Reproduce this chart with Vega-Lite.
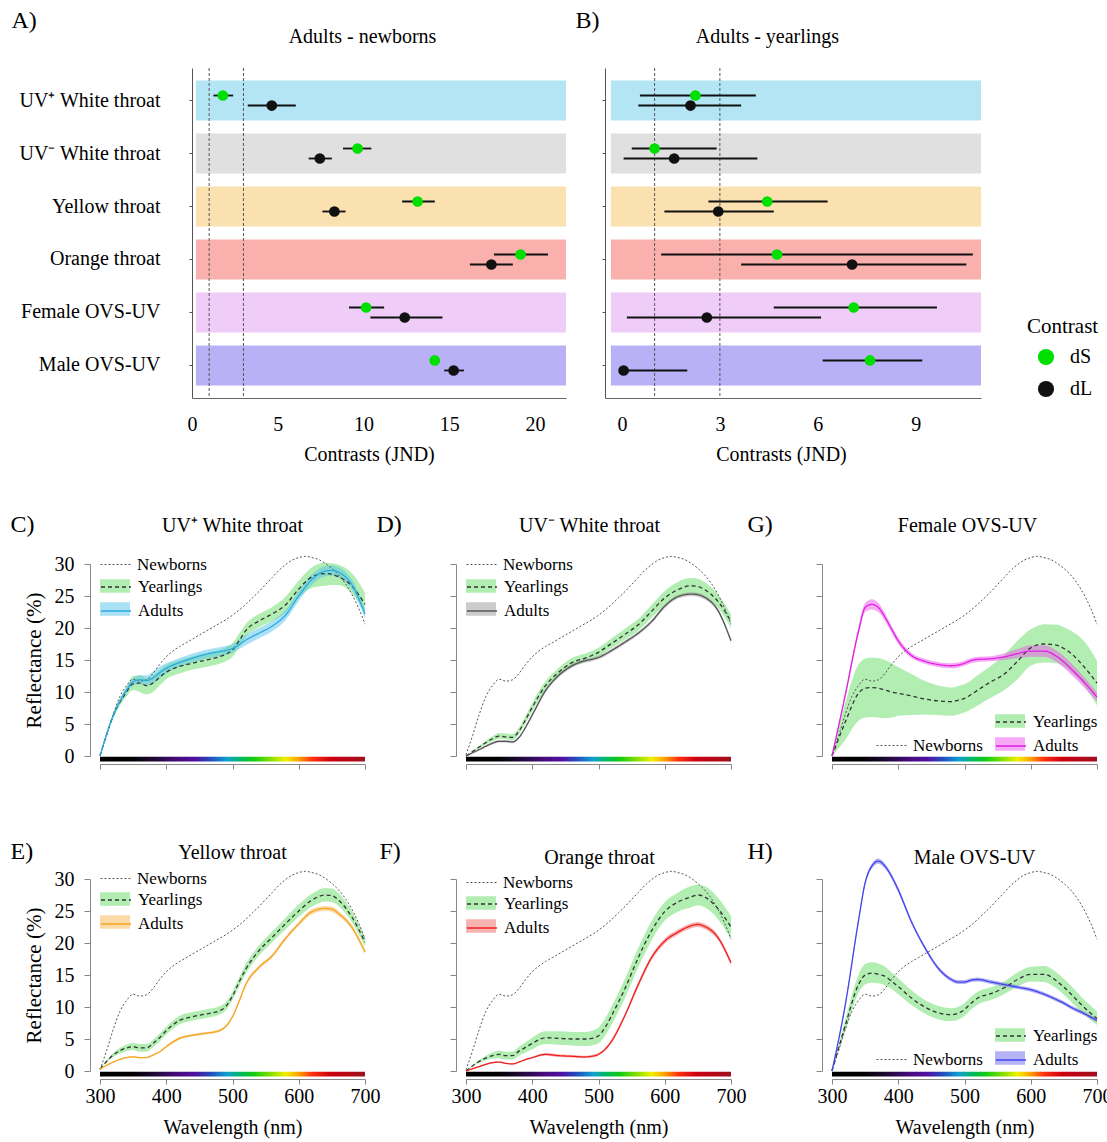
{
"$schema":"https://vega.github.io/schema/vega-lite/v6.json",
"padding":{"left":10,"top":8,"right":5,"bottom":5},
"config":{"font":"Liberation Serif","view":{"stroke":null},
 "axis":{"grid":false,"titleFontWeight":"normal","labelColor":"#000000","titleColor":"#000000","labelFont":"Liberation Serif","titleFont":"Liberation Serif"},
 "legend":{"labelFont":"Liberation Serif","titleFont":"Liberation Serif","labelColor":"#000000","titleColor":"#000000"}},
"datasets":{
"thr":[{"t":1},{"t":3}],
"con":[
{"comp":"Adults - newborns","cat":"UV⁺ White throat","type":"dS","v":1.8,"lo":1.25,"hi":2.4},
{"comp":"Adults - newborns","cat":"UV⁺ White throat","type":"dL","v":4.65,"lo":3.25,"hi":6.05},
{"comp":"Adults - newborns","cat":"UV⁻ White throat","type":"dS","v":9.65,"lo":8.8,"hi":10.45},
{"comp":"Adults - newborns","cat":"UV⁻ White throat","type":"dL","v":7.45,"lo":6.8,"hi":8.15},
{"comp":"Adults - newborns","cat":"Yellow throat","type":"dS","v":13.15,"lo":12.25,"hi":14.15},
{"comp":"Adults - newborns","cat":"Yellow throat","type":"dL","v":8.3,"lo":7.6,"hi":8.95},
{"comp":"Adults - newborns","cat":"Orange throat","type":"dS","v":19.15,"lo":17.6,"hi":20.75},
{"comp":"Adults - newborns","cat":"Orange throat","type":"dL","v":17.45,"lo":16.2,"hi":18.7},
{"comp":"Adults - newborns","cat":"Female OVS-UV","type":"dS","v":10.15,"lo":9.15,"hi":11.2},
{"comp":"Adults - newborns","cat":"Female OVS-UV","type":"dL","v":12.4,"lo":10.4,"hi":14.6},
{"comp":"Adults - newborns","cat":"Male OVS-UV","type":"dS","v":14.15,"lo":14.0,"hi":14.3},
{"comp":"Adults - newborns","cat":"Male OVS-UV","type":"dL","v":15.25,"lo":14.7,"hi":15.85},
{"comp":"Adults - yearlings","cat":"UV⁺ White throat","type":"dS","v":2.25,"lo":0.55,"hi":4.1},
{"comp":"Adults - yearlings","cat":"UV⁺ White throat","type":"dL","v":2.1,"lo":0.5,"hi":3.65},
{"comp":"Adults - yearlings","cat":"UV⁻ White throat","type":"dS","v":1.0,"lo":0.3,"hi":2.9},
{"comp":"Adults - yearlings","cat":"UV⁻ White throat","type":"dL","v":1.6,"lo":0.05,"hi":4.15},
{"comp":"Adults - yearlings","cat":"Yellow throat","type":"dS","v":4.45,"lo":2.65,"hi":6.3},
{"comp":"Adults - yearlings","cat":"Yellow throat","type":"dL","v":2.95,"lo":1.3,"hi":4.65},
{"comp":"Adults - yearlings","cat":"Orange throat","type":"dS","v":4.75,"lo":1.2,"hi":10.75},
{"comp":"Adults - yearlings","cat":"Orange throat","type":"dL","v":7.05,"lo":3.65,"hi":10.55},
{"comp":"Adults - yearlings","cat":"Female OVS-UV","type":"dS","v":7.1,"lo":4.65,"hi":9.65},
{"comp":"Adults - yearlings","cat":"Female OVS-UV","type":"dL","v":2.6,"lo":0.15,"hi":6.1},
{"comp":"Adults - yearlings","cat":"Male OVS-UV","type":"dS","v":7.6,"lo":6.15,"hi":9.2},
{"comp":"Adults - yearlings","cat":"Male OVS-UV","type":"dL","v":0.05,"lo":0.05,"hi":2.0}
],
"newborn":[
{"w":300,"r":0.2},{"w":310,"r":3.2},{"w":320,"r":6.5},{"w":330,"r":9.3},{"w":340,"r":11.0},{"w":350,"r":12.0},{"w":360,"r":11.7},{"w":370,"r":11.9},{"w":380,"r":12.9},{"w":390,"r":14.3},{"w":400,"r":15.5},{"w":410,"r":16.4},{"w":420,"r":17.1},{"w":430,"r":17.7},{"w":440,"r":18.3},{"w":450,"r":18.9},{"w":460,"r":19.5},{"w":470,"r":20.1},{"w":480,"r":20.7},{"w":490,"r":21.3},{"w":500,"r":22.0},{"w":510,"r":22.8},{"w":520,"r":23.7},{"w":530,"r":24.7},{"w":540,"r":25.7},{"w":550,"r":26.8},{"w":560,"r":27.9},{"w":570,"r":29.0},{"w":580,"r":29.9},{"w":590,"r":30.6},{"w":600,"r":31.0},{"w":610,"r":31.2},{"w":620,"r":31.0},{"w":630,"r":30.7},{"w":640,"r":30.1},{"w":650,"r":29.3},{"w":660,"r":28.3},{"w":670,"r":27.0},{"w":680,"r":25.3},{"w":690,"r":23.2},{"w":700,"r":20.6}
],
"spec":[
{"p":"C","g":"Yearlings","w":300,"m":0,"lo":0,"hi":0},{"p":"C","g":"Yearlings","w":320,"m":6.3,"lo":5.9,"hi":6.7},{"p":"C","g":"Yearlings","w":340,"m":10.0,"lo":9.3,"hi":10.8},{"p":"C","g":"Yearlings","w":350,"m":11.3,"lo":10.3,"hi":12.5},{"p":"C","g":"Yearlings","w":360,"m":11.4,"lo":10.0,"hi":12.6},{"p":"C","g":"Yearlings","w":370,"m":11.0,"lo":9.6,"hi":12.2},{"p":"C","g":"Yearlings","w":380,"m":11.4,"lo":10.0,"hi":12.6},{"p":"C","g":"Yearlings","w":390,"m":12.3,"lo":11.0,"hi":13.4},{"p":"C","g":"Yearlings","w":400,"m":13.1,"lo":12.0,"hi":14.2},{"p":"C","g":"Yearlings","w":420,"m":14.0,"lo":12.9,"hi":15.0},{"p":"C","g":"Yearlings","w":440,"m":14.5,"lo":13.5,"hi":15.6},{"p":"C","g":"Yearlings","w":460,"m":15.0,"lo":13.9,"hi":16.1},{"p":"C","g":"Yearlings","w":480,"m":15.5,"lo":14.4,"hi":16.6},{"p":"C","g":"Yearlings","w":490,"m":15.9,"lo":14.8,"hi":17.0},{"p":"C","g":"Yearlings","w":500,"m":16.6,"lo":15.5,"hi":17.6},{"p":"C","g":"Yearlings","w":510,"m":18.0,"lo":17.0,"hi":19.1},{"p":"C","g":"Yearlings","w":520,"m":19.6,"lo":18.6,"hi":20.6},{"p":"C","g":"Yearlings","w":540,"m":21.1,"lo":20.1,"hi":22.2},{"p":"C","g":"Yearlings","w":560,"m":22.2,"lo":21.1,"hi":23.3},{"p":"C","g":"Yearlings","w":580,"m":23.6,"lo":22.4,"hi":24.9},{"p":"C","g":"Yearlings","w":600,"m":26.1,"lo":24.8,"hi":27.4},{"p":"C","g":"Yearlings","w":620,"m":28.0,"lo":26.3,"hi":29.5},{"p":"C","g":"Yearlings","w":640,"m":28.5,"lo":26.6,"hi":30.2},{"p":"C","g":"Yearlings","w":650,"m":28.4,"lo":26.7,"hi":30.1},{"p":"C","g":"Yearlings","w":660,"m":28.0,"lo":26.7,"hi":29.9},{"p":"C","g":"Yearlings","w":680,"m":26.6,"lo":25.4,"hi":28.6},{"p":"C","g":"Yearlings","w":700,"m":23.7,"lo":22.4,"hi":25.5},
{"p":"C","g":"Adults","w":300,"m":0,"lo":0,"hi":0},{"p":"C","g":"Adults","w":320,"m":6.3,"lo":6.0,"hi":6.6},{"p":"C","g":"Adults","w":340,"m":10.3,"lo":9.8,"hi":10.8},{"p":"C","g":"Adults","w":350,"m":11.6,"lo":11.0,"hi":12.2},{"p":"C","g":"Adults","w":360,"m":11.9,"lo":11.2,"hi":12.6},{"p":"C","g":"Adults","w":370,"m":11.8,"lo":11.0,"hi":12.6},{"p":"C","g":"Adults","w":380,"m":12.2,"lo":11.3,"hi":13.2},{"p":"C","g":"Adults","w":390,"m":13.0,"lo":12.1,"hi":14.0},{"p":"C","g":"Adults","w":400,"m":13.7,"lo":12.9,"hi":14.5},{"p":"C","g":"Adults","w":420,"m":14.6,"lo":13.9,"hi":15.3},{"p":"C","g":"Adults","w":440,"m":15.3,"lo":14.6,"hi":16.0},{"p":"C","g":"Adults","w":460,"m":15.9,"lo":15.2,"hi":16.6},{"p":"C","g":"Adults","w":480,"m":16.3,"lo":15.6,"hi":17.0},{"p":"C","g":"Adults","w":490,"m":16.5,"lo":15.8,"hi":17.2},{"p":"C","g":"Adults","w":500,"m":16.8,"lo":16.1,"hi":17.5},{"p":"C","g":"Adults","w":510,"m":17.4,"lo":16.7,"hi":18.2},{"p":"C","g":"Adults","w":520,"m":18.1,"lo":17.3,"hi":18.9},{"p":"C","g":"Adults","w":540,"m":19.2,"lo":18.4,"hi":20.0},{"p":"C","g":"Adults","w":560,"m":20.3,"lo":19.5,"hi":21.1},{"p":"C","g":"Adults","w":580,"m":22.0,"lo":21.2,"hi":22.8},{"p":"C","g":"Adults","w":600,"m":25.0,"lo":24.2,"hi":25.8},{"p":"C","g":"Adults","w":620,"m":27.6,"lo":26.8,"hi":28.4},{"p":"C","g":"Adults","w":640,"m":28.9,"lo":28.1,"hi":29.7},{"p":"C","g":"Adults","w":650,"m":29.0,"lo":28.2,"hi":29.8},{"p":"C","g":"Adults","w":660,"m":28.7,"lo":27.9,"hi":29.5},{"p":"C","g":"Adults","w":680,"m":26.8,"lo":26.0,"hi":27.6},{"p":"C","g":"Adults","w":700,"m":22.2,"lo":21.4,"hi":23.0},
{"p":"D","g":"Yearlings","w":300,"m":0,"lo":0,"hi":0},{"p":"D","g":"Yearlings","w":320,"m":1.4,"lo":1.2,"hi":1.6},{"p":"D","g":"Yearlings","w":340,"m":2.7,"lo":2.3,"hi":3.1},{"p":"D","g":"Yearlings","w":350,"m":3.1,"lo":2.7,"hi":3.6},{"p":"D","g":"Yearlings","w":360,"m":3.0,"lo":2.6,"hi":3.5},{"p":"D","g":"Yearlings","w":370,"m":2.9,"lo":2.5,"hi":3.4},{"p":"D","g":"Yearlings","w":380,"m":3.9,"lo":3.4,"hi":4.4},{"p":"D","g":"Yearlings","w":390,"m":5.7,"lo":5.1,"hi":6.3},{"p":"D","g":"Yearlings","w":400,"m":7.6,"lo":7.0,"hi":8.3},{"p":"D","g":"Yearlings","w":420,"m":11.0,"lo":10.3,"hi":11.7},{"p":"D","g":"Yearlings","w":440,"m":13.1,"lo":12.4,"hi":13.8},{"p":"D","g":"Yearlings","w":460,"m":14.6,"lo":13.9,"hi":15.3},{"p":"D","g":"Yearlings","w":480,"m":15.3,"lo":14.7,"hi":16.0},{"p":"D","g":"Yearlings","w":490,"m":15.7,"lo":15.1,"hi":16.4},{"p":"D","g":"Yearlings","w":500,"m":16.2,"lo":15.6,"hi":16.9},{"p":"D","g":"Yearlings","w":510,"m":16.9,"lo":16.2,"hi":17.6},{"p":"D","g":"Yearlings","w":520,"m":17.6,"lo":16.9,"hi":18.4},{"p":"D","g":"Yearlings","w":540,"m":19.0,"lo":18.2,"hi":19.9},{"p":"D","g":"Yearlings","w":560,"m":20.5,"lo":19.6,"hi":21.4},{"p":"D","g":"Yearlings","w":580,"m":22.6,"lo":21.6,"hi":23.6},{"p":"D","g":"Yearlings","w":600,"m":24.7,"lo":23.6,"hi":25.8},{"p":"D","g":"Yearlings","w":620,"m":26.0,"lo":24.9,"hi":27.2},{"p":"D","g":"Yearlings","w":640,"m":26.6,"lo":25.4,"hi":27.8},{"p":"D","g":"Yearlings","w":650,"m":26.5,"lo":25.3,"hi":27.7},{"p":"D","g":"Yearlings","w":660,"m":26.0,"lo":24.9,"hi":27.2},{"p":"D","g":"Yearlings","w":680,"m":24.2,"lo":23.2,"hi":25.3},{"p":"D","g":"Yearlings","w":700,"m":21.0,"lo":20.0,"hi":22.1},
{"p":"D","g":"Adults","w":300,"m":0,"lo":0,"hi":0},{"p":"D","g":"Adults","w":320,"m":1.0,"lo":0.9,"hi":1.1},{"p":"D","g":"Adults","w":340,"m":2.0,"lo":1.8,"hi":2.2},{"p":"D","g":"Adults","w":350,"m":2.3,"lo":2.1,"hi":2.5},{"p":"D","g":"Adults","w":360,"m":2.3,"lo":2.1,"hi":2.5},{"p":"D","g":"Adults","w":370,"m":2.2,"lo":2.0,"hi":2.4},{"p":"D","g":"Adults","w":380,"m":2.9,"lo":2.7,"hi":3.1},{"p":"D","g":"Adults","w":390,"m":4.5,"lo":4.3,"hi":4.7},{"p":"D","g":"Adults","w":400,"m":6.4,"lo":6.2,"hi":6.7},{"p":"D","g":"Adults","w":420,"m":10.2,"lo":9.9,"hi":10.5},{"p":"D","g":"Adults","w":440,"m":12.6,"lo":12.3,"hi":12.9},{"p":"D","g":"Adults","w":460,"m":14.1,"lo":13.8,"hi":14.4},{"p":"D","g":"Adults","w":480,"m":14.9,"lo":14.6,"hi":15.2},{"p":"D","g":"Adults","w":490,"m":15.1,"lo":14.8,"hi":15.4},{"p":"D","g":"Adults","w":500,"m":15.4,"lo":15.1,"hi":15.7},{"p":"D","g":"Adults","w":510,"m":15.9,"lo":15.6,"hi":16.2},{"p":"D","g":"Adults","w":520,"m":16.5,"lo":16.2,"hi":16.8},{"p":"D","g":"Adults","w":540,"m":17.8,"lo":17.5,"hi":18.1},{"p":"D","g":"Adults","w":560,"m":19.2,"lo":18.9,"hi":19.5},{"p":"D","g":"Adults","w":580,"m":21.0,"lo":20.7,"hi":21.3},{"p":"D","g":"Adults","w":600,"m":23.4,"lo":23.1,"hi":23.7},{"p":"D","g":"Adults","w":620,"m":24.9,"lo":24.6,"hi":25.2},{"p":"D","g":"Adults","w":640,"m":25.3,"lo":25.0,"hi":25.6},{"p":"D","g":"Adults","w":650,"m":25.2,"lo":24.9,"hi":25.5},{"p":"D","g":"Adults","w":660,"m":24.8,"lo":24.5,"hi":25.1},{"p":"D","g":"Adults","w":680,"m":22.8,"lo":22.5,"hi":23.1},{"p":"D","g":"Adults","w":700,"m":18.0,"lo":17.7,"hi":18.3},
{"p":"G","g":"Yearlings","w":300,"m":0,"lo":0,"hi":0},{"p":"G","g":"Yearlings","w":320,"m":5.3,"lo":2.5,"hi":8.3},{"p":"G","g":"Yearlings","w":340,"m":9.8,"lo":5.5,"hi":14.3},{"p":"G","g":"Yearlings","w":350,"m":10.6,"lo":6.0,"hi":15.2},{"p":"G","g":"Yearlings","w":360,"m":10.7,"lo":6.1,"hi":15.4},{"p":"G","g":"Yearlings","w":370,"m":10.6,"lo":6.0,"hi":15.3},{"p":"G","g":"Yearlings","w":380,"m":10.3,"lo":5.9,"hi":15.0},{"p":"G","g":"Yearlings","w":390,"m":10.0,"lo":6.0,"hi":14.5},{"p":"G","g":"Yearlings","w":400,"m":9.8,"lo":6.3,"hi":13.9},{"p":"G","g":"Yearlings","w":420,"m":9.4,"lo":6.4,"hi":12.8},{"p":"G","g":"Yearlings","w":440,"m":8.9,"lo":6.5,"hi":11.7},{"p":"G","g":"Yearlings","w":460,"m":8.6,"lo":6.4,"hi":11.0},{"p":"G","g":"Yearlings","w":480,"m":8.5,"lo":6.3,"hi":10.7},{"p":"G","g":"Yearlings","w":490,"m":8.7,"lo":6.5,"hi":10.9},{"p":"G","g":"Yearlings","w":500,"m":9.0,"lo":6.8,"hi":11.2},{"p":"G","g":"Yearlings","w":510,"m":9.6,"lo":7.3,"hi":11.8},{"p":"G","g":"Yearlings","w":520,"m":10.3,"lo":7.9,"hi":12.6},{"p":"G","g":"Yearlings","w":540,"m":11.6,"lo":9.1,"hi":14.1},{"p":"G","g":"Yearlings","w":560,"m":12.8,"lo":10.3,"hi":15.8},{"p":"G","g":"Yearlings","w":580,"m":14.8,"lo":12.0,"hi":18.0},{"p":"G","g":"Yearlings","w":600,"m":16.9,"lo":14.1,"hi":19.8},{"p":"G","g":"Yearlings","w":620,"m":17.5,"lo":14.6,"hi":20.6},{"p":"G","g":"Yearlings","w":640,"m":17.3,"lo":14.5,"hi":20.5},{"p":"G","g":"Yearlings","w":650,"m":16.8,"lo":14.0,"hi":20.1},{"p":"G","g":"Yearlings","w":660,"m":16.1,"lo":13.2,"hi":19.6},{"p":"G","g":"Yearlings","w":680,"m":14.0,"lo":11.0,"hi":18.0},{"p":"G","g":"Yearlings","w":700,"m":11.4,"lo":7.9,"hi":14.9},
{"p":"G","g":"Adults","w":300,"m":0,"lo":0,"hi":0},{"p":"G","g":"Adults","w":320,"m":9.5,"lo":9.1,"hi":9.9},{"p":"G","g":"Adults","w":340,"m":19.5,"lo":18.9,"hi":20.1},{"p":"G","g":"Adults","w":350,"m":23.2,"lo":22.5,"hi":23.9},{"p":"G","g":"Adults","w":360,"m":23.7,"lo":22.9,"hi":24.5},{"p":"G","g":"Adults","w":370,"m":23.2,"lo":22.5,"hi":23.9},{"p":"G","g":"Adults","w":380,"m":21.7,"lo":21.1,"hi":22.3},{"p":"G","g":"Adults","w":390,"m":19.8,"lo":19.3,"hi":20.3},{"p":"G","g":"Adults","w":400,"m":18.0,"lo":17.5,"hi":18.5},{"p":"G","g":"Adults","w":420,"m":15.7,"lo":15.3,"hi":16.1},{"p":"G","g":"Adults","w":440,"m":14.8,"lo":14.4,"hi":15.2},{"p":"G","g":"Adults","w":460,"m":14.3,"lo":13.9,"hi":14.7},{"p":"G","g":"Adults","w":480,"m":14.1,"lo":13.7,"hi":14.5},{"p":"G","g":"Adults","w":490,"m":14.2,"lo":13.8,"hi":14.6},{"p":"G","g":"Adults","w":500,"m":14.5,"lo":14.1,"hi":14.9},{"p":"G","g":"Adults","w":510,"m":14.9,"lo":14.5,"hi":15.3},{"p":"G","g":"Adults","w":520,"m":15.1,"lo":14.7,"hi":15.5},{"p":"G","g":"Adults","w":540,"m":15.2,"lo":14.8,"hi":15.6},{"p":"G","g":"Adults","w":560,"m":15.5,"lo":15.0,"hi":16.0},{"p":"G","g":"Adults","w":580,"m":16.0,"lo":15.3,"hi":16.7},{"p":"G","g":"Adults","w":600,"m":16.4,"lo":15.5,"hi":17.3},{"p":"G","g":"Adults","w":620,"m":16.4,"lo":15.5,"hi":17.3},{"p":"G","g":"Adults","w":640,"m":15.5,"lo":14.6,"hi":16.4},{"p":"G","g":"Adults","w":650,"m":14.7,"lo":13.8,"hi":15.6},{"p":"G","g":"Adults","w":660,"m":13.7,"lo":12.8,"hi":14.6},{"p":"G","g":"Adults","w":680,"m":11.6,"lo":10.8,"hi":12.4},{"p":"G","g":"Adults","w":700,"m":9.2,"lo":8.5,"hi":9.9},
{"p":"E","g":"Yearlings","w":300,"m":0.3,"lo":0.3,"hi":0.3},{"p":"E","g":"Yearlings","w":320,"m":2.5,"lo":2.2,"hi":2.8},{"p":"E","g":"Yearlings","w":340,"m":3.6,"lo":3.1,"hi":4.1},{"p":"E","g":"Yearlings","w":350,"m":3.8,"lo":3.3,"hi":4.4},{"p":"E","g":"Yearlings","w":360,"m":3.6,"lo":3.0,"hi":4.2},{"p":"E","g":"Yearlings","w":370,"m":3.6,"lo":3.0,"hi":4.2},{"p":"E","g":"Yearlings","w":380,"m":4.3,"lo":3.7,"hi":4.9},{"p":"E","g":"Yearlings","w":390,"m":5.2,"lo":4.6,"hi":5.8},{"p":"E","g":"Yearlings","w":400,"m":6.3,"lo":5.7,"hi":6.9},{"p":"E","g":"Yearlings","w":420,"m":7.9,"lo":7.3,"hi":8.6},{"p":"E","g":"Yearlings","w":440,"m":8.5,"lo":7.9,"hi":9.2},{"p":"E","g":"Yearlings","w":460,"m":8.9,"lo":8.3,"hi":9.6},{"p":"E","g":"Yearlings","w":480,"m":9.4,"lo":8.8,"hi":10.1},{"p":"E","g":"Yearlings","w":490,"m":10.1,"lo":9.5,"hi":10.8},{"p":"E","g":"Yearlings","w":500,"m":11.7,"lo":11.1,"hi":12.4},{"p":"E","g":"Yearlings","w":510,"m":13.9,"lo":13.2,"hi":14.6},{"p":"E","g":"Yearlings","w":520,"m":15.9,"lo":15.2,"hi":16.7},{"p":"E","g":"Yearlings","w":540,"m":18.8,"lo":18.0,"hi":19.6},{"p":"E","g":"Yearlings","w":560,"m":20.9,"lo":20.1,"hi":21.8},{"p":"E","g":"Yearlings","w":580,"m":23.0,"lo":22.1,"hi":23.9},{"p":"E","g":"Yearlings","w":600,"m":25.0,"lo":24.1,"hi":26.0},{"p":"E","g":"Yearlings","w":620,"m":26.7,"lo":25.7,"hi":27.7},{"p":"E","g":"Yearlings","w":640,"m":27.5,"lo":26.5,"hi":28.6},{"p":"E","g":"Yearlings","w":650,"m":27.4,"lo":26.4,"hi":28.5},{"p":"E","g":"Yearlings","w":660,"m":26.7,"lo":25.8,"hi":27.8},{"p":"E","g":"Yearlings","w":680,"m":24.1,"lo":23.3,"hi":25.0},{"p":"E","g":"Yearlings","w":700,"m":20.1,"lo":19.4,"hi":20.9},
{"p":"E","g":"Adults","w":300,"m":0.3,"lo":0.3,"hi":0.3},{"p":"E","g":"Adults","w":320,"m":1.4,"lo":1.3,"hi":1.5},{"p":"E","g":"Adults","w":340,"m":2.1,"lo":2.0,"hi":2.2},{"p":"E","g":"Adults","w":350,"m":2.2,"lo":2.1,"hi":2.3},{"p":"E","g":"Adults","w":360,"m":2.1,"lo":2.0,"hi":2.2},{"p":"E","g":"Adults","w":370,"m":2.1,"lo":2.0,"hi":2.2},{"p":"E","g":"Adults","w":380,"m":2.5,"lo":2.4,"hi":2.6},{"p":"E","g":"Adults","w":390,"m":3.0,"lo":2.9,"hi":3.1},{"p":"E","g":"Adults","w":400,"m":3.8,"lo":3.6,"hi":4.0},{"p":"E","g":"Adults","w":420,"m":5.1,"lo":4.9,"hi":5.3},{"p":"E","g":"Adults","w":440,"m":5.6,"lo":5.4,"hi":5.8},{"p":"E","g":"Adults","w":460,"m":5.9,"lo":5.7,"hi":6.1},{"p":"E","g":"Adults","w":480,"m":6.3,"lo":6.1,"hi":6.5},{"p":"E","g":"Adults","w":490,"m":7.0,"lo":6.8,"hi":7.2},{"p":"E","g":"Adults","w":500,"m":8.5,"lo":8.3,"hi":8.7},{"p":"E","g":"Adults","w":510,"m":10.9,"lo":10.6,"hi":11.2},{"p":"E","g":"Adults","w":520,"m":13.5,"lo":13.2,"hi":13.8},{"p":"E","g":"Adults","w":540,"m":16.2,"lo":15.9,"hi":16.5},{"p":"E","g":"Adults","w":560,"m":18.0,"lo":17.7,"hi":18.3},{"p":"E","g":"Adults","w":580,"m":20.7,"lo":20.4,"hi":21.0},{"p":"E","g":"Adults","w":600,"m":23.0,"lo":22.7,"hi":23.3},{"p":"E","g":"Adults","w":620,"m":24.9,"lo":24.5,"hi":25.3},{"p":"E","g":"Adults","w":640,"m":25.4,"lo":25.0,"hi":25.8},{"p":"E","g":"Adults","w":650,"m":25.3,"lo":24.9,"hi":25.7},{"p":"E","g":"Adults","w":660,"m":24.6,"lo":24.2,"hi":25.0},{"p":"E","g":"Adults","w":680,"m":22.5,"lo":22.1,"hi":22.9},{"p":"E","g":"Adults","w":700,"m":18.6,"lo":18.2,"hi":19.0},
{"p":"F","g":"Yearlings","w":300,"m":0,"lo":0,"hi":0},{"p":"F","g":"Yearlings","w":320,"m":1.5,"lo":1.3,"hi":1.7},{"p":"F","g":"Yearlings","w":340,"m":2.4,"lo":1.9,"hi":2.9},{"p":"F","g":"Yearlings","w":350,"m":2.6,"lo":2.0,"hi":3.2},{"p":"F","g":"Yearlings","w":360,"m":2.4,"lo":1.8,"hi":3.0},{"p":"F","g":"Yearlings","w":370,"m":2.4,"lo":1.8,"hi":3.0},{"p":"F","g":"Yearlings","w":380,"m":3.1,"lo":2.4,"hi":3.8},{"p":"F","g":"Yearlings","w":390,"m":3.7,"lo":2.9,"hi":4.5},{"p":"F","g":"Yearlings","w":400,"m":4.3,"lo":3.4,"hi":5.2},{"p":"F","g":"Yearlings","w":420,"m":5.2,"lo":4.2,"hi":6.2},{"p":"F","g":"Yearlings","w":440,"m":5.1,"lo":4.1,"hi":6.2},{"p":"F","g":"Yearlings","w":460,"m":5.0,"lo":4.0,"hi":6.1},{"p":"F","g":"Yearlings","w":480,"m":5.0,"lo":3.9,"hi":6.1},{"p":"F","g":"Yearlings","w":490,"m":5.1,"lo":4.0,"hi":6.3},{"p":"F","g":"Yearlings","w":500,"m":5.5,"lo":4.3,"hi":6.8},{"p":"F","g":"Yearlings","w":510,"m":6.8,"lo":5.5,"hi":8.2},{"p":"F","g":"Yearlings","w":520,"m":8.7,"lo":7.3,"hi":10.1},{"p":"F","g":"Yearlings","w":540,"m":12.9,"lo":11.4,"hi":14.4},{"p":"F","g":"Yearlings","w":560,"m":17.7,"lo":16.2,"hi":19.2},{"p":"F","g":"Yearlings","w":580,"m":21.9,"lo":20.4,"hi":23.4},{"p":"F","g":"Yearlings","w":600,"m":24.9,"lo":23.5,"hi":26.4},{"p":"F","g":"Yearlings","w":620,"m":26.4,"lo":24.9,"hi":27.9},{"p":"F","g":"Yearlings","w":640,"m":27.2,"lo":25.6,"hi":28.9},{"p":"F","g":"Yearlings","w":650,"m":27.5,"lo":25.9,"hi":29.1},{"p":"F","g":"Yearlings","w":660,"m":27.2,"lo":25.6,"hi":28.9},{"p":"F","g":"Yearlings","w":680,"m":25.4,"lo":23.8,"hi":27.1},{"p":"F","g":"Yearlings","w":700,"m":22.5,"lo":20.6,"hi":24.2},
{"p":"F","g":"Adults","w":300,"m":0,"lo":0,"hi":0},{"p":"F","g":"Adults","w":320,"m":0.7,"lo":0.6,"hi":0.8},{"p":"F","g":"Adults","w":340,"m":1.3,"lo":1.2,"hi":1.4},{"p":"F","g":"Adults","w":350,"m":1.4,"lo":1.3,"hi":1.5},{"p":"F","g":"Adults","w":360,"m":1.2,"lo":1.1,"hi":1.3},{"p":"F","g":"Adults","w":370,"m":1.1,"lo":1.0,"hi":1.2},{"p":"F","g":"Adults","w":380,"m":1.4,"lo":1.3,"hi":1.5},{"p":"F","g":"Adults","w":390,"m":1.8,"lo":1.7,"hi":1.9},{"p":"F","g":"Adults","w":400,"m":2.1,"lo":2.0,"hi":2.2},{"p":"F","g":"Adults","w":420,"m":2.6,"lo":2.4,"hi":2.8},{"p":"F","g":"Adults","w":440,"m":2.4,"lo":2.2,"hi":2.6},{"p":"F","g":"Adults","w":460,"m":2.3,"lo":2.1,"hi":2.5},{"p":"F","g":"Adults","w":480,"m":2.2,"lo":2.0,"hi":2.4},{"p":"F","g":"Adults","w":490,"m":2.3,"lo":2.1,"hi":2.5},{"p":"F","g":"Adults","w":500,"m":2.6,"lo":2.4,"hi":2.8},{"p":"F","g":"Adults","w":510,"m":3.4,"lo":3.2,"hi":3.6},{"p":"F","g":"Adults","w":520,"m":4.7,"lo":4.4,"hi":5.0},{"p":"F","g":"Adults","w":540,"m":8.7,"lo":8.4,"hi":9.0},{"p":"F","g":"Adults","w":560,"m":13.5,"lo":13.1,"hi":13.9},{"p":"F","g":"Adults","w":580,"m":17.7,"lo":17.3,"hi":18.1},{"p":"F","g":"Adults","w":600,"m":20.3,"lo":19.9,"hi":20.7},{"p":"F","g":"Adults","w":620,"m":21.7,"lo":21.3,"hi":22.1},{"p":"F","g":"Adults","w":640,"m":22.7,"lo":22.3,"hi":23.1},{"p":"F","g":"Adults","w":650,"m":22.9,"lo":22.5,"hi":23.3},{"p":"F","g":"Adults","w":660,"m":22.6,"lo":22.2,"hi":23.0},{"p":"F","g":"Adults","w":680,"m":20.9,"lo":20.5,"hi":21.3},{"p":"F","g":"Adults","w":700,"m":16.9,"lo":16.5,"hi":17.3},
{"p":"H","g":"Yearlings","w":300,"m":0,"lo":0,"hi":0},{"p":"H","g":"Yearlings","w":320,"m":7.1,"lo":6.2,"hi":8.0},{"p":"H","g":"Yearlings","w":340,"m":13.5,"lo":12.2,"hi":15.0},{"p":"H","g":"Yearlings","w":350,"m":15.0,"lo":13.5,"hi":16.7},{"p":"H","g":"Yearlings","w":360,"m":15.3,"lo":13.8,"hi":17.0},{"p":"H","g":"Yearlings","w":370,"m":15.1,"lo":13.7,"hi":16.8},{"p":"H","g":"Yearlings","w":380,"m":14.8,"lo":13.4,"hi":16.3},{"p":"H","g":"Yearlings","w":390,"m":14.0,"lo":12.8,"hi":15.4},{"p":"H","g":"Yearlings","w":400,"m":13.2,"lo":12.0,"hi":14.5},{"p":"H","g":"Yearlings","w":420,"m":11.4,"lo":10.3,"hi":12.6},{"p":"H","g":"Yearlings","w":440,"m":10.0,"lo":9.0,"hi":11.1},{"p":"H","g":"Yearlings","w":460,"m":9.1,"lo":8.1,"hi":10.2},{"p":"H","g":"Yearlings","w":480,"m":8.8,"lo":7.8,"hi":9.8},{"p":"H","g":"Yearlings","w":490,"m":9.0,"lo":8.0,"hi":10.0},{"p":"H","g":"Yearlings","w":500,"m":9.6,"lo":8.6,"hi":10.6},{"p":"H","g":"Yearlings","w":510,"m":10.6,"lo":9.6,"hi":11.6},{"p":"H","g":"Yearlings","w":520,"m":11.4,"lo":10.4,"hi":12.4},{"p":"H","g":"Yearlings","w":540,"m":12.1,"lo":11.1,"hi":13.1},{"p":"H","g":"Yearlings","w":560,"m":13.0,"lo":12.0,"hi":14.0},{"p":"H","g":"Yearlings","w":580,"m":14.3,"lo":13.2,"hi":15.4},{"p":"H","g":"Yearlings","w":600,"m":15.1,"lo":14.0,"hi":16.3},{"p":"H","g":"Yearlings","w":620,"m":15.1,"lo":13.9,"hi":16.4},{"p":"H","g":"Yearlings","w":640,"m":14.0,"lo":12.8,"hi":15.3},{"p":"H","g":"Yearlings","w":650,"m":13.1,"lo":11.9,"hi":14.4},{"p":"H","g":"Yearlings","w":660,"m":12.1,"lo":10.9,"hi":13.4},{"p":"H","g":"Yearlings","w":680,"m":10.0,"lo":8.9,"hi":11.2},{"p":"H","g":"Yearlings","w":700,"m":8.2,"lo":7.2,"hi":9.3},
{"p":"H","g":"Adults","w":300,"m":0,"lo":0,"hi":0},{"p":"H","g":"Adults","w":320,"m":10.3,"lo":10.0,"hi":10.6},{"p":"H","g":"Adults","w":340,"m":23.5,"lo":23.1,"hi":23.9},{"p":"H","g":"Adults","w":350,"m":29.4,"lo":29.0,"hi":29.8},{"p":"H","g":"Adults","w":360,"m":32.0,"lo":31.6,"hi":32.4},{"p":"H","g":"Adults","w":370,"m":32.8,"lo":32.4,"hi":33.2},{"p":"H","g":"Adults","w":380,"m":32.0,"lo":31.6,"hi":32.4},{"p":"H","g":"Adults","w":390,"m":30.4,"lo":30.0,"hi":30.8},{"p":"H","g":"Adults","w":400,"m":28.3,"lo":27.9,"hi":28.7},{"p":"H","g":"Adults","w":420,"m":23.3,"lo":23.0,"hi":23.6},{"p":"H","g":"Adults","w":440,"m":19.3,"lo":19.0,"hi":19.6},{"p":"H","g":"Adults","w":460,"m":16.1,"lo":15.8,"hi":16.4},{"p":"H","g":"Adults","w":480,"m":14.3,"lo":14.0,"hi":14.6},{"p":"H","g":"Adults","w":490,"m":13.9,"lo":13.6,"hi":14.2},{"p":"H","g":"Adults","w":500,"m":13.9,"lo":13.6,"hi":14.2},{"p":"H","g":"Adults","w":510,"m":14.2,"lo":13.9,"hi":14.5},{"p":"H","g":"Adults","w":520,"m":14.3,"lo":14.0,"hi":14.6},{"p":"H","g":"Adults","w":540,"m":13.9,"lo":13.6,"hi":14.2},{"p":"H","g":"Adults","w":560,"m":13.5,"lo":13.2,"hi":13.8},{"p":"H","g":"Adults","w":580,"m":13.1,"lo":12.8,"hi":13.4},{"p":"H","g":"Adults","w":600,"m":12.7,"lo":12.4,"hi":13.0},{"p":"H","g":"Adults","w":620,"m":12.0,"lo":11.7,"hi":12.3},{"p":"H","g":"Adults","w":640,"m":11.1,"lo":10.8,"hi":11.4},{"p":"H","g":"Adults","w":650,"m":10.6,"lo":10.3,"hi":10.9},{"p":"H","g":"Adults","w":660,"m":10.0,"lo":9.7,"hi":10.3},{"p":"H","g":"Adults","w":680,"m":9.0,"lo":8.7,"hi":9.3},{"p":"H","g":"Adults","w":700,"m":7.9,"lo":7.6,"hi":8.2}
]},
"spacing":48,
"resolve":{"scale":{"fill":"independent","stroke":"independent","strokeDash":"independent"}},
"vconcat":[
{"hconcat":[
 {"width":52.5,"height":330,"data":{"values":[]},"mark":"point","encoding":{}},
 {"width":374,"height":330,
  "resolve":{"axis":{"x":"independent","y":"independent"}},
  "layer":[
   {"data":{"name":"con"},"transform":[{"filter":"datum.comp === 'Adults - newborns' && datum.type === 'dS'"}],
    "mark":{"type":"rect"},
    "encoding":{
     "y":{"field":"cat","type":"nominal","scale":{"domain":["UV⁺ White throat","UV⁻ White throat","Yellow throat","Orange throat","Female OVS-UV","Male OVS-UV"],"paddingInner":0.245,"paddingOuter":0.236},
      "axis":{"orient":"left","title":null,"labelFontSize":20,"labelPadding":29,"tickSize":3,"domainColor":"#555555","tickColor":"#555555","labelLimit":400}},
     "x":{"datum":0.23,"type":"quantitative","scale":{"domain":[0,21.8],"nice":false,"zero":false},
      "axis":{"orient":"bottom","values":[0,5,10,15,20],"ticks":false,"labelFlush":false,"labelFontSize":20,"labelPadding":16,"domainColor":"#666666","title":"Contrasts (JND)","titleFontSize":20,"titlePadding":10,"titleX":177}},
     "x2":{"datum":21.8},
     "fill":{"field":"cat","type":"nominal","scale":{"domain":["UV⁺ White throat","UV⁻ White throat","Yellow throat","Orange throat","Female OVS-UV","Male OVS-UV"],"range":["#b3e5f5","#e0e0e0","#fbe0b0","#fab1ae","#f0cdf8","#b8b1f6"]},"legend":null}}},
   {"data":{"name":"thr"},"mark":{"type":"rule","strokeDash":[3,2],"color":"#555555","strokeWidth":1},
    "encoding":{"x":{"field":"t","type":"quantitative","axis":{"orient":"top","domain":false,"ticks":false,"labels":false,"title":"Adults - newborns","titleFontSize":20,"titleX":170,"titleY":-32,"titleAlign":"center","titleBaseline":"middle"}}}},
   {"data":{"name":"con"},"transform":[{"filter":"datum.comp === 'Adults - newborns'"}],
    "mark":{"type":"rule","color":"#111111","strokeWidth":1.8},
    "encoding":{
     "y":{"field":"cat","type":"nominal","axis":null},
     "yOffset":{"field":"type","type":"nominal","scale":{"domain":["dS","dL"],"paddingInner":0,"paddingOuter":1.22}},
     "x":{"field":"lo","type":"quantitative","axis":{"orient":"top","domain":false,"ticks":false,"labels":false,"title":"A)","titleFontSize":24,"titleX":-181,"titleY":-48,"titleAlign":"left","titleBaseline":"middle"}},
     "x2":{"field":"hi"}}},
   {"data":{"name":"con"},"transform":[{"filter":"datum.comp === 'Adults - newborns'"}],
    "mark":{"type":"circle","size":115,"opacity":1},
    "encoding":{
     "y":{"field":"cat","type":"nominal","axis":null},
     "yOffset":{"field":"type","type":"nominal","scale":{"domain":["dS","dL"],"paddingInner":0,"paddingOuter":1.22}},
     "x":{"field":"v","type":"quantitative","axis":null},
     "color":{"field":"type","type":"nominal","scale":{"domain":["dS","dL"],"range":["#00e000","#111111"]},
      "legend":{"title":"Contrast","orient":"none","legendX":927,"legendY":248,"titleFontSize":21,"titleFontWeight":"normal","labelFontSize":20,"symbolSize":260,"symbolType":"circle","symbolStrokeWidth":0,"symbolOffset":9,"labelOffset":14,"rowPadding":12,"titlePadding":10,"padding":0}}}}
  ]},
 {"width":376,"height":330,
  "resolve":{"axis":{"x":"independent","y":"independent"}},
  "layer":[
   {"data":{"name":"con"},"transform":[{"filter":"datum.comp === 'Adults - yearlings' && datum.type === 'dS'"}],
    "mark":{"type":"rect"},
    "encoding":{
     "y":{"field":"cat","type":"nominal","scale":{"domain":["UV⁺ White throat","UV⁻ White throat","Yellow throat","Orange throat","Female OVS-UV","Male OVS-UV"],"paddingInner":0.245,"paddingOuter":0.236},
      "axis":{"orient":"left","title":null,"labels":false,"tickSize":3,"domainColor":"#555555","tickColor":"#555555"}},
     "x":{"datum":-0.34,"type":"quantitative","scale":{"domain":[-0.52,11.0],"nice":false,"zero":false},
      "axis":{"orient":"bottom","values":[0,3,6,9],"ticks":false,"labelFlush":false,"labelFontSize":20,"labelPadding":16,"domainColor":"#666666","title":"Contrasts (JND)","titleFontSize":20,"titlePadding":10,"titleX":176}},
     "x2":{"datum":11.0},
     "fill":{"field":"cat","type":"nominal","scale":{"domain":["UV⁺ White throat","UV⁻ White throat","Yellow throat","Orange throat","Female OVS-UV","Male OVS-UV"],"range":["#b3e5f5","#e0e0e0","#fbe0b0","#fab1ae","#f0cdf8","#b8b1f6"]},"legend":null}}},
   {"data":{"name":"thr"},"mark":{"type":"rule","strokeDash":[3,2],"color":"#555555","strokeWidth":1},
    "encoding":{"x":{"field":"t","type":"quantitative","axis":{"orient":"top","domain":false,"ticks":false,"labels":false,"title":"Adults - yearlings","titleFontSize":20,"titleX":162,"titleY":-32,"titleAlign":"center","titleBaseline":"middle"}}}},
   {"data":{"name":"con"},"transform":[{"filter":"datum.comp === 'Adults - yearlings'"}],
    "mark":{"type":"rule","color":"#111111","strokeWidth":1.8},
    "encoding":{
     "y":{"field":"cat","type":"nominal","axis":null},
     "yOffset":{"field":"type","type":"nominal","scale":{"domain":["dS","dL"],"paddingInner":0,"paddingOuter":1.22}},
     "x":{"field":"lo","type":"quantitative","axis":{"orient":"top","domain":false,"ticks":false,"labels":false,"title":"B)","titleFontSize":24,"titleX":-30,"titleY":-48,"titleAlign":"left","titleBaseline":"middle"}},
     "x2":{"field":"hi"}}},
   {"data":{"name":"con"},"transform":[{"filter":"datum.comp === 'Adults - yearlings'"}],
    "mark":{"type":"circle","size":115,"opacity":1},
    "encoding":{
     "y":{"field":"cat","type":"nominal","axis":null},
     "yOffset":{"field":"type","type":"nominal","scale":{"domain":["dS","dL"],"paddingInner":0,"paddingOuter":1.22}},
     "x":{"field":"v","type":"quantitative","axis":null},
     "color":{"field":"type","type":"nominal","scale":{"domain":["dS","dL"],"range":["#00e000","#111111"]},
      "legend":{"title":"Contrast","orient":"none","legendX":927,"legendY":248,"titleFontSize":21,"titleFontWeight":"normal","labelFontSize":20,"symbolSize":260,"symbolType":"circle","symbolStrokeWidth":0,"symbolOffset":9,"labelOffset":14,"rowPadding":12,"titlePadding":10,"padding":0}}}}
  ]}
 ],"spacing":39,"bounds":"flush"},
{"hconcat":[
 {"width":265,"height":192,
  "resolve":{"scale":{"stroke":"independent","strokeDash":"independent"},"axis":{"x":"independent","y":"independent"}},
  "layer":[
   {"data":{"values":[{"bar":"visible spectrum"}]},
    "mark":{"type":"rect","color":{"gradient":"linear","stops":[{"offset":0,"color":"#000000"},{"offset":0.12,"color":"#000000"},{"offset":0.2,"color":"#1c0830"},{"offset":0.3,"color":"#4a0a80"},{"offset":0.36,"color":"#5010a0"},{"offset":0.42,"color":"#2050c0"},{"offset":0.48,"color":"#10a0d0"},{"offset":0.53,"color":"#00b860"},{"offset":0.58,"color":"#10cc10"},{"offset":0.65,"color":"#90e000"},{"offset":0.7,"color":"#f0f000"},{"offset":0.75,"color":"#ffa000"},{"offset":0.8,"color":"#ff3010"},{"offset":0.87,"color":"#cc0010"},{"offset":1,"color":"#a01020"}]}},
    "encoding":{
     "x":{"datum":300,"type":"quantitative","scale":{"domain":[300,700],"nice":false,"zero":false},
      "axis":{"orient":"bottom","offset":8,"values":[300,400,500,600,700],"tickSize":5,"labelFlush":false,"labelExpr":"datum.value == 700 ? '' : datum.label","labelColor":"transparent","labelFontSize":20,"labelPadding":2,"domainColor":"#888888","tickColor":"#888888","title":null}},
     "x2":{"datum":700},
     "y":{"datum":-0.12,"type":"quantitative","scale":{"domain":[0,30],"nice":false,"zero":false},
      "axis":{"orient":"left","offset":10,"values":[0,5,10,15,20,25,30],"tickSize":6,"labelFontSize":20,"labelPadding":10,"domainColor":"#888888","tickColor":"#888888","title":"Reflectance (%)","titleFontSize":21,"titlePadding":10}},
     "y2":{"datum":-0.85}}},
   {"data":{"name":"spec"},"transform":[{"filter":"datum.p === 'C'"}],
    "mark":{"type":"area","opacity":0.5,"interpolate":"monotone"},
    "encoding":{
     "x":{"field":"w","type":"quantitative","axis":{"orient":"top","domain":false,"ticks":false,"labels":false,"title":"UV⁺ White throat","titleFontSize":20,"titleX":132,"titleY":-39,"titleAlign":"center","titleBaseline":"middle"}},
     "y":{"field":"lo","type":"quantitative","axis":null},"y2":{"field":"hi"},
     "fill":{"field":"g","type":"nominal","scale":{"domain":["Yearlings","Adults"],"range":["#66dd66","#55c3ec"]},
      "legend":{"orient":"none","legendX":0,"legendY":7,"title":null,"symbolType":"M-1,-0.45H1V0.45H-1Z","symbolSize":900,"symbolStrokeWidth":0,"labelFontSize":17,"labelOffset":6,"rowPadding":0,"padding":0,"labelOpacity":0}}}},
   {"data":{"name":"newborn"},
    "mark":{"type":"line","strokeDash":[2,2],"strokeWidth":1,"interpolate":"monotone"},
    "encoding":{
     "x":{"field":"w","type":"quantitative","axis":{"orient":"top","domain":false,"ticks":false,"labels":false,"title":"C)","titleFontSize":24,"titleX":-90,"titleY":-40,"titleAlign":"left","titleBaseline":"middle"}},
     "y":{"field":"r","type":"quantitative","axis":null},
     "stroke":{"datum":"Newborns","type":"nominal","scale":{"range":["#555555"]},
      "legend":{"orient":"none","legendX":0,"legendY":-15,"title":null,"symbolType":"stroke","symbolSize":900,"symbolStrokeWidth":1,"symbolDash":[2,2],"labelFontSize":17,"labelOffset":6,"padding":0}}}},
   {"data":{"name":"spec"},"transform":[{"filter":"datum.p === 'C'"}],
    "mark":{"type":"line","strokeWidth":1.3,"interpolate":"monotone"},
    "encoding":{
     "x":{"field":"w","type":"quantitative","axis":null},
     "y":{"field":"m","type":"quantitative","axis":null},
     "stroke":{"field":"g","type":"nominal","scale":{"domain":["Yearlings","Adults"],"range":["#333333","#29abe2"]},
      "legend":{"orient":"none","legendX":0,"legendY":7,"title":null,"symbolType":"stroke","symbolSize":900,"symbolStrokeWidth":1.3,"labelFontSize":17,"labelOffset":6,"rowPadding":0,"padding":0}},
     "strokeDash":{"field":"g","type":"nominal","scale":{"domain":["Yearlings","Adults"],"range":[[4,3],[1,0]]},
      "legend":{"orient":"none","legendX":0,"legendY":7,"title":null,"symbolType":"stroke","symbolSize":900,"symbolStrokeWidth":1.3,"labelFontSize":17,"labelOffset":6,"rowPadding":0,"padding":0}}}}
  ]},
 {"width":265,"height":192,
  "resolve":{"scale":{"stroke":"independent","strokeDash":"independent"},"axis":{"x":"independent","y":"independent"}},
  "layer":[
   {"data":{"values":[{"bar":"visible spectrum"}]},
    "mark":{"type":"rect","color":{"gradient":"linear","stops":[{"offset":0,"color":"#000000"},{"offset":0.12,"color":"#000000"},{"offset":0.2,"color":"#1c0830"},{"offset":0.3,"color":"#4a0a80"},{"offset":0.36,"color":"#5010a0"},{"offset":0.42,"color":"#2050c0"},{"offset":0.48,"color":"#10a0d0"},{"offset":0.53,"color":"#00b860"},{"offset":0.58,"color":"#10cc10"},{"offset":0.65,"color":"#90e000"},{"offset":0.7,"color":"#f0f000"},{"offset":0.75,"color":"#ffa000"},{"offset":0.8,"color":"#ff3010"},{"offset":0.87,"color":"#cc0010"},{"offset":1,"color":"#a01020"}]}},
    "encoding":{
     "x":{"datum":300,"type":"quantitative","scale":{"domain":[300,700],"nice":false,"zero":false},
      "axis":{"orient":"bottom","offset":8,"values":[300,400,500,600,700],"tickSize":5,"labelFlush":false,"labelExpr":"datum.value == 700 ? '' : datum.label","labelColor":"transparent","labelFontSize":20,"labelPadding":2,"domainColor":"#888888","tickColor":"#888888","title":null}},
     "x2":{"datum":700},
     "y":{"datum":-0.12,"type":"quantitative","scale":{"domain":[0,30],"nice":false,"zero":false},
      "axis":{"orient":"left","offset":10,"values":[0,5,10,15,20,25,30],"tickSize":6,"labels":false,"domainColor":"#888888","tickColor":"#888888","title":null}},
     "y2":{"datum":-0.85}}},
   {"data":{"name":"spec"},"transform":[{"filter":"datum.p === 'D'"}],
    "mark":{"type":"area","opacity":0.5,"interpolate":"monotone"},
    "encoding":{
     "x":{"field":"w","type":"quantitative","axis":{"orient":"top","domain":false,"ticks":false,"labels":false,"title":"UV⁻ White throat","titleFontSize":20,"titleX":123,"titleY":-39,"titleAlign":"center","titleBaseline":"middle"}},
     "y":{"field":"lo","type":"quantitative","axis":null},"y2":{"field":"hi"},
     "fill":{"field":"g","type":"nominal","scale":{"domain":["Yearlings","Adults"],"range":["#66dd66","#999999"]},
      "legend":{"orient":"none","legendX":0,"legendY":7,"title":null,"symbolType":"M-1,-0.45H1V0.45H-1Z","symbolSize":900,"symbolStrokeWidth":0,"labelFontSize":17,"labelOffset":6,"rowPadding":0,"padding":0,"labelOpacity":0}}}},
   {"data":{"name":"newborn"},
    "mark":{"type":"line","strokeDash":[2,2],"strokeWidth":1,"interpolate":"monotone"},
    "encoding":{
     "x":{"field":"w","type":"quantitative","axis":{"orient":"top","domain":false,"ticks":false,"labels":false,"title":"D)","titleFontSize":24,"titleX":-90,"titleY":-40,"titleAlign":"left","titleBaseline":"middle"}},
     "y":{"field":"r","type":"quantitative","axis":null},
     "stroke":{"datum":"Newborns","type":"nominal","scale":{"range":["#555555"]},
      "legend":{"orient":"none","legendX":0,"legendY":-15,"title":null,"symbolType":"stroke","symbolSize":900,"symbolStrokeWidth":1,"symbolDash":[2,2],"labelFontSize":17,"labelOffset":6,"padding":0}}}},
   {"data":{"name":"spec"},"transform":[{"filter":"datum.p === 'D'"}],
    "mark":{"type":"line","strokeWidth":1.3,"interpolate":"monotone"},
    "encoding":{
     "x":{"field":"w","type":"quantitative","axis":null},
     "y":{"field":"m","type":"quantitative","axis":null},
     "stroke":{"field":"g","type":"nominal","scale":{"domain":["Yearlings","Adults"],"range":["#333333","#555555"]},
      "legend":{"orient":"none","legendX":0,"legendY":7,"title":null,"symbolType":"stroke","symbolSize":900,"symbolStrokeWidth":1.3,"labelFontSize":17,"labelOffset":6,"rowPadding":0,"padding":0}},
     "strokeDash":{"field":"g","type":"nominal","scale":{"domain":["Yearlings","Adults"],"range":[[4,3],[1,0]]},
      "legend":{"orient":"none","legendX":0,"legendY":7,"title":null,"symbolType":"stroke","symbolSize":900,"symbolStrokeWidth":1.3,"labelFontSize":17,"labelOffset":6,"rowPadding":0,"padding":0}}}}
  ]},
 {"width":265,"height":192,
  "resolve":{"scale":{"stroke":"independent","strokeDash":"independent"},"axis":{"x":"independent","y":"independent"}},
  "layer":[
   {"data":{"values":[{"bar":"visible spectrum"}]},
    "mark":{"type":"rect","color":{"gradient":"linear","stops":[{"offset":0,"color":"#000000"},{"offset":0.12,"color":"#000000"},{"offset":0.2,"color":"#1c0830"},{"offset":0.3,"color":"#4a0a80"},{"offset":0.36,"color":"#5010a0"},{"offset":0.42,"color":"#2050c0"},{"offset":0.48,"color":"#10a0d0"},{"offset":0.53,"color":"#00b860"},{"offset":0.58,"color":"#10cc10"},{"offset":0.65,"color":"#90e000"},{"offset":0.7,"color":"#f0f000"},{"offset":0.75,"color":"#ffa000"},{"offset":0.8,"color":"#ff3010"},{"offset":0.87,"color":"#cc0010"},{"offset":1,"color":"#a01020"}]}},
    "encoding":{
     "x":{"datum":300,"type":"quantitative","scale":{"domain":[300,700],"nice":false,"zero":false},
      "axis":{"orient":"bottom","offset":8,"values":[300,400,500,600,700],"tickSize":5,"labelFlush":false,"labelExpr":"datum.value == 700 ? '' : datum.label","labelColor":"transparent","labelFontSize":20,"labelPadding":2,"domainColor":"#888888","tickColor":"#888888","title":null}},
     "x2":{"datum":700},
     "y":{"datum":-0.12,"type":"quantitative","scale":{"domain":[0,30],"nice":false,"zero":false},
      "axis":{"orient":"left","offset":10,"values":[0,5,10,15,20,25,30],"tickSize":6,"labels":false,"domainColor":"#888888","tickColor":"#888888","title":null}},
     "y2":{"datum":-0.85}}},
   {"data":{"name":"spec"},"transform":[{"filter":"datum.p === 'G'"}],
    "mark":{"type":"area","opacity":0.5,"interpolate":"monotone"},
    "encoding":{
     "x":{"field":"w","type":"quantitative","axis":{"orient":"top","domain":false,"ticks":false,"labels":false,"title":"Female OVS-UV","titleFontSize":20,"titleX":135,"titleY":-39,"titleAlign":"center","titleBaseline":"middle"}},
     "y":{"field":"lo","type":"quantitative","axis":null},"y2":{"field":"hi"},
     "fill":{"field":"g","type":"nominal","scale":{"domain":["Yearlings","Adults"],"range":["#66dd66","#ee55ee"]},
      "legend":{"orient":"none","legendX":163,"legendY":142,"title":null,"symbolType":"M-1,-0.45H1V0.45H-1Z","symbolSize":900,"symbolStrokeWidth":0,"labelFontSize":17,"labelOffset":6,"rowPadding":0,"padding":0,"labelOpacity":0}}}},
   {"data":{"name":"newborn"},
    "mark":{"type":"line","strokeDash":[2,2],"strokeWidth":1,"interpolate":"monotone"},
    "encoding":{
     "x":{"field":"w","type":"quantitative","axis":{"orient":"top","domain":false,"ticks":false,"labels":false,"title":"G)","titleFontSize":24,"titleX":-85,"titleY":-40,"titleAlign":"left","titleBaseline":"middle"}},
     "y":{"field":"r","type":"quantitative","axis":null},
     "stroke":{"datum":"Newborns","type":"nominal","scale":{"range":["#555555"]},
      "legend":{"orient":"none","legendX":44,"legendY":166,"title":null,"symbolType":"stroke","symbolSize":900,"symbolStrokeWidth":1,"symbolDash":[2,2],"labelFontSize":17,"labelOffset":6,"padding":0}}}},
   {"data":{"name":"spec"},"transform":[{"filter":"datum.p === 'G'"}],
    "mark":{"type":"line","strokeWidth":1.3,"interpolate":"monotone"},
    "encoding":{
     "x":{"field":"w","type":"quantitative","axis":null},
     "y":{"field":"m","type":"quantitative","axis":null},
     "stroke":{"field":"g","type":"nominal","scale":{"domain":["Yearlings","Adults"],"range":["#333333","#e21ee2"]},
      "legend":{"orient":"none","legendX":163,"legendY":142,"title":null,"symbolType":"stroke","symbolSize":900,"symbolStrokeWidth":1.3,"labelFontSize":17,"labelOffset":6,"rowPadding":0,"padding":0}},
     "strokeDash":{"field":"g","type":"nominal","scale":{"domain":["Yearlings","Adults"],"range":[[4,3],[1,0]]},
      "legend":{"orient":"none","legendX":163,"legendY":142,"title":null,"symbolType":"stroke","symbolSize":900,"symbolStrokeWidth":1.3,"labelFontSize":17,"labelOffset":6,"rowPadding":0,"padding":0}}}}
  ]}
 ],"spacing":101,"bounds":"flush","resolve":{"scale":{"fill":"independent","stroke":"independent","strokeDash":"independent"}}},
{"hconcat":[
 {"width":265,"height":192,
  "resolve":{"scale":{"stroke":"independent","strokeDash":"independent"},"axis":{"x":"independent","y":"independent"}},
  "layer":[
   {"data":{"values":[{"bar":"visible spectrum"}]},
    "mark":{"type":"rect","color":{"gradient":"linear","stops":[{"offset":0,"color":"#000000"},{"offset":0.12,"color":"#000000"},{"offset":0.2,"color":"#1c0830"},{"offset":0.3,"color":"#4a0a80"},{"offset":0.36,"color":"#5010a0"},{"offset":0.42,"color":"#2050c0"},{"offset":0.48,"color":"#10a0d0"},{"offset":0.53,"color":"#00b860"},{"offset":0.58,"color":"#10cc10"},{"offset":0.65,"color":"#90e000"},{"offset":0.7,"color":"#f0f000"},{"offset":0.75,"color":"#ffa000"},{"offset":0.8,"color":"#ff3010"},{"offset":0.87,"color":"#cc0010"},{"offset":1,"color":"#a01020"}]}},
    "encoding":{
     "x":{"datum":300,"type":"quantitative","scale":{"domain":[300,700],"nice":false,"zero":false},
      "axis":{"orient":"bottom","offset":8,"values":[300,400,500,600,700],"tickSize":5,"labelFlush":false,"labelFontSize":20,"labelPadding":2,"domainColor":"#888888","tickColor":"#888888","title":"Wavelength (nm)","titleFontSize":20,"titlePadding":11}},
     "x2":{"datum":700},
     "y":{"datum":-0.12,"type":"quantitative","scale":{"domain":[0,30],"nice":false,"zero":false},
      "axis":{"orient":"left","offset":10,"values":[0,5,10,15,20,25,30],"tickSize":6,"labelFontSize":20,"labelPadding":10,"domainColor":"#888888","tickColor":"#888888","title":"Reflectance (%)","titleFontSize":21,"titlePadding":10}},
     "y2":{"datum":-0.85}}},
   {"data":{"name":"spec"},"transform":[{"filter":"datum.p === 'E'"}],
    "mark":{"type":"area","opacity":0.5,"interpolate":"monotone"},
    "encoding":{
     "x":{"field":"w","type":"quantitative","axis":{"orient":"top","domain":false,"ticks":false,"labels":false,"title":"Yellow throat","titleFontSize":20,"titleX":132,"titleY":-27,"titleAlign":"center","titleBaseline":"middle"}},
     "y":{"field":"lo","type":"quantitative","axis":null},"y2":{"field":"hi"},
     "fill":{"field":"g","type":"nominal","scale":{"domain":["Yearlings","Adults"],"range":["#66dd66","#f7b552"]},
      "legend":{"orient":"none","legendX":0,"legendY":5,"title":null,"symbolType":"M-1,-0.45H1V0.45H-1Z","symbolSize":900,"symbolStrokeWidth":0,"labelFontSize":17,"labelOffset":6,"rowPadding":0,"padding":0,"labelOpacity":0}}}},
   {"data":{"name":"newborn"},
    "mark":{"type":"line","strokeDash":[2,2],"strokeWidth":1,"interpolate":"monotone"},
    "encoding":{
     "x":{"field":"w","type":"quantitative","axis":{"orient":"top","domain":false,"ticks":false,"labels":false,"title":"E)","titleFontSize":24,"titleX":-90,"titleY":-28,"titleAlign":"left","titleBaseline":"middle"}},
     "y":{"field":"r","type":"quantitative","axis":null},
     "stroke":{"datum":"Newborns","type":"nominal","scale":{"range":["#555555"]},
      "legend":{"orient":"none","legendX":0,"legendY":-16,"title":null,"symbolType":"stroke","symbolSize":900,"symbolStrokeWidth":1,"symbolDash":[2,2],"labelFontSize":17,"labelOffset":6,"padding":0}}}},
   {"data":{"name":"spec"},"transform":[{"filter":"datum.p === 'E'"}],
    "mark":{"type":"line","strokeWidth":1.3,"interpolate":"monotone"},
    "encoding":{
     "x":{"field":"w","type":"quantitative","axis":null},
     "y":{"field":"m","type":"quantitative","axis":null},
     "stroke":{"field":"g","type":"nominal","scale":{"domain":["Yearlings","Adults"],"range":["#333333","#f5a623"]},
      "legend":{"orient":"none","legendX":0,"legendY":5,"title":null,"symbolType":"stroke","symbolSize":900,"symbolStrokeWidth":1.3,"labelFontSize":17,"labelOffset":6,"rowPadding":0,"padding":0}},
     "strokeDash":{"field":"g","type":"nominal","scale":{"domain":["Yearlings","Adults"],"range":[[4,3],[1,0]]},
      "legend":{"orient":"none","legendX":0,"legendY":5,"title":null,"symbolType":"stroke","symbolSize":900,"symbolStrokeWidth":1.3,"labelFontSize":17,"labelOffset":6,"rowPadding":0,"padding":0}}}}
  ]},
 {"width":265,"height":192,
  "resolve":{"scale":{"stroke":"independent","strokeDash":"independent"},"axis":{"x":"independent","y":"independent"}},
  "layer":[
   {"data":{"values":[{"bar":"visible spectrum"}]},
    "mark":{"type":"rect","color":{"gradient":"linear","stops":[{"offset":0,"color":"#000000"},{"offset":0.12,"color":"#000000"},{"offset":0.2,"color":"#1c0830"},{"offset":0.3,"color":"#4a0a80"},{"offset":0.36,"color":"#5010a0"},{"offset":0.42,"color":"#2050c0"},{"offset":0.48,"color":"#10a0d0"},{"offset":0.53,"color":"#00b860"},{"offset":0.58,"color":"#10cc10"},{"offset":0.65,"color":"#90e000"},{"offset":0.7,"color":"#f0f000"},{"offset":0.75,"color":"#ffa000"},{"offset":0.8,"color":"#ff3010"},{"offset":0.87,"color":"#cc0010"},{"offset":1,"color":"#a01020"}]}},
    "encoding":{
     "x":{"datum":300,"type":"quantitative","scale":{"domain":[300,700],"nice":false,"zero":false},
      "axis":{"orient":"bottom","offset":8,"values":[300,400,500,600,700],"tickSize":5,"labelFlush":false,"labelFontSize":20,"labelPadding":2,"domainColor":"#888888","tickColor":"#888888","title":"Wavelength (nm)","titleFontSize":20,"titlePadding":11}},
     "x2":{"datum":700},
     "y":{"datum":-0.12,"type":"quantitative","scale":{"domain":[0,30],"nice":false,"zero":false},
      "axis":{"orient":"left","offset":10,"values":[0,5,10,15,20,25,30],"tickSize":6,"labels":false,"domainColor":"#888888","tickColor":"#888888","title":null}},
     "y2":{"datum":-0.85}}},
   {"data":{"name":"spec"},"transform":[{"filter":"datum.p === 'F'"}],
    "mark":{"type":"area","opacity":0.5,"interpolate":"monotone"},
    "encoding":{
     "x":{"field":"w","type":"quantitative","axis":{"orient":"top","domain":false,"ticks":false,"labels":false,"title":"Orange throat","titleFontSize":20,"titleX":133,"titleY":-22,"titleAlign":"center","titleBaseline":"middle"}},
     "y":{"field":"lo","type":"quantitative","axis":null},"y2":{"field":"hi"},
     "fill":{"field":"g","type":"nominal","scale":{"domain":["Yearlings","Adults"],"range":["#66dd66","#f36666"]},
      "legend":{"orient":"none","legendX":0,"legendY":9,"title":null,"symbolType":"M-1,-0.45H1V0.45H-1Z","symbolSize":900,"symbolStrokeWidth":0,"labelFontSize":17,"labelOffset":6,"rowPadding":0,"padding":0,"labelOpacity":0}}}},
   {"data":{"name":"newborn"},
    "mark":{"type":"line","strokeDash":[2,2],"strokeWidth":1,"interpolate":"monotone"},
    "encoding":{
     "x":{"field":"w","type":"quantitative","axis":{"orient":"top","domain":false,"ticks":false,"labels":false,"title":"F)","titleFontSize":24,"titleX":-87,"titleY":-28,"titleAlign":"left","titleBaseline":"middle"}},
     "y":{"field":"r","type":"quantitative","axis":null},
     "stroke":{"datum":"Newborns","type":"nominal","scale":{"range":["#555555"]},
      "legend":{"orient":"none","legendX":0,"legendY":-12,"title":null,"symbolType":"stroke","symbolSize":900,"symbolStrokeWidth":1,"symbolDash":[2,2],"labelFontSize":17,"labelOffset":6,"padding":0}}}},
   {"data":{"name":"spec"},"transform":[{"filter":"datum.p === 'F'"}],
    "mark":{"type":"line","strokeWidth":1.3,"interpolate":"monotone"},
    "encoding":{
     "x":{"field":"w","type":"quantitative","axis":null},
     "y":{"field":"m","type":"quantitative","axis":null},
     "stroke":{"field":"g","type":"nominal","scale":{"domain":["Yearlings","Adults"],"range":["#333333","#ee2020"]},
      "legend":{"orient":"none","legendX":0,"legendY":9,"title":null,"symbolType":"stroke","symbolSize":900,"symbolStrokeWidth":1.3,"labelFontSize":17,"labelOffset":6,"rowPadding":0,"padding":0}},
     "strokeDash":{"field":"g","type":"nominal","scale":{"domain":["Yearlings","Adults"],"range":[[4,3],[1,0]]},
      "legend":{"orient":"none","legendX":0,"legendY":9,"title":null,"symbolType":"stroke","symbolSize":900,"symbolStrokeWidth":1.3,"labelFontSize":17,"labelOffset":6,"rowPadding":0,"padding":0}}}}
  ]},
 {"width":265,"height":192,
  "resolve":{"scale":{"stroke":"independent","strokeDash":"independent"},"axis":{"x":"independent","y":"independent"}},
  "layer":[
   {"data":{"values":[{"bar":"visible spectrum"}]},
    "mark":{"type":"rect","color":{"gradient":"linear","stops":[{"offset":0,"color":"#000000"},{"offset":0.12,"color":"#000000"},{"offset":0.2,"color":"#1c0830"},{"offset":0.3,"color":"#4a0a80"},{"offset":0.36,"color":"#5010a0"},{"offset":0.42,"color":"#2050c0"},{"offset":0.48,"color":"#10a0d0"},{"offset":0.53,"color":"#00b860"},{"offset":0.58,"color":"#10cc10"},{"offset":0.65,"color":"#90e000"},{"offset":0.7,"color":"#f0f000"},{"offset":0.75,"color":"#ffa000"},{"offset":0.8,"color":"#ff3010"},{"offset":0.87,"color":"#cc0010"},{"offset":1,"color":"#a01020"}]}},
    "encoding":{
     "x":{"datum":300,"type":"quantitative","scale":{"domain":[300,700],"nice":false,"zero":false},
      "axis":{"orient":"bottom","offset":8,"values":[300,400,500,600,700],"tickSize":5,"labelFlush":false,"labelFontSize":20,"labelPadding":2,"domainColor":"#888888","tickColor":"#888888","title":"Wavelength (nm)","titleFontSize":20,"titlePadding":11}},
     "x2":{"datum":700},
     "y":{"datum":-0.12,"type":"quantitative","scale":{"domain":[0,30],"nice":false,"zero":false},
      "axis":{"orient":"left","offset":10,"values":[0,5,10,15,20,25,30],"tickSize":6,"labels":false,"domainColor":"#888888","tickColor":"#888888","title":null}},
     "y2":{"datum":-0.85}}},
   {"data":{"name":"spec"},"transform":[{"filter":"datum.p === 'H'"}],
    "mark":{"type":"area","opacity":0.5,"interpolate":"monotone"},
    "encoding":{
     "x":{"field":"w","type":"quantitative","axis":{"orient":"top","domain":false,"ticks":false,"labels":false,"title":"Male OVS-UV","titleFontSize":20,"titleX":142,"titleY":-22,"titleAlign":"center","titleBaseline":"middle"}},
     "y":{"field":"lo","type":"quantitative","axis":null},"y2":{"field":"hi"},
     "fill":{"field":"g","type":"nominal","scale":{"domain":["Yearlings","Adults"],"range":["#66dd66","#6a6aeb"]},
      "legend":{"orient":"none","legendX":163,"legendY":141,"title":null,"symbolType":"M-1,-0.45H1V0.45H-1Z","symbolSize":900,"symbolStrokeWidth":0,"labelFontSize":17,"labelOffset":6,"rowPadding":0,"padding":0,"labelOpacity":0}}}},
   {"data":{"name":"newborn"},
    "mark":{"type":"line","strokeDash":[2,2],"strokeWidth":1,"interpolate":"monotone"},
    "encoding":{
     "x":{"field":"w","type":"quantitative","axis":{"orient":"top","domain":false,"ticks":false,"labels":false,"title":"H)","titleFontSize":24,"titleX":-85,"titleY":-28,"titleAlign":"left","titleBaseline":"middle"}},
     "y":{"field":"r","type":"quantitative","axis":null},
     "stroke":{"datum":"Newborns","type":"nominal","scale":{"range":["#555555"]},
      "legend":{"orient":"none","legendX":44,"legendY":165,"title":null,"symbolType":"stroke","symbolSize":900,"symbolStrokeWidth":1,"symbolDash":[2,2],"labelFontSize":17,"labelOffset":6,"padding":0}}}},
   {"data":{"name":"spec"},"transform":[{"filter":"datum.p === 'H'"}],
    "mark":{"type":"line","strokeWidth":1.3,"interpolate":"monotone"},
    "encoding":{
     "x":{"field":"w","type":"quantitative","axis":null},
     "y":{"field":"m","type":"quantitative","axis":null},
     "stroke":{"field":"g","type":"nominal","scale":{"domain":["Yearlings","Adults"],"range":["#333333","#4444ee"]},
      "legend":{"orient":"none","legendX":163,"legendY":141,"title":null,"symbolType":"stroke","symbolSize":900,"symbolStrokeWidth":1.3,"labelFontSize":17,"labelOffset":6,"rowPadding":0,"padding":0}},
     "strokeDash":{"field":"g","type":"nominal","scale":{"domain":["Yearlings","Adults"],"range":[[4,3],[1,0]]},
      "legend":{"orient":"none","legendX":163,"legendY":141,"title":null,"symbolType":"stroke","symbolSize":900,"symbolStrokeWidth":1.3,"labelFontSize":17,"labelOffset":6,"rowPadding":0,"padding":0}}}}
  ]}
 ],"spacing":101,"bounds":"flush","resolve":{"scale":{"fill":"independent","stroke":"independent","strokeDash":"independent"}}}
]
}
